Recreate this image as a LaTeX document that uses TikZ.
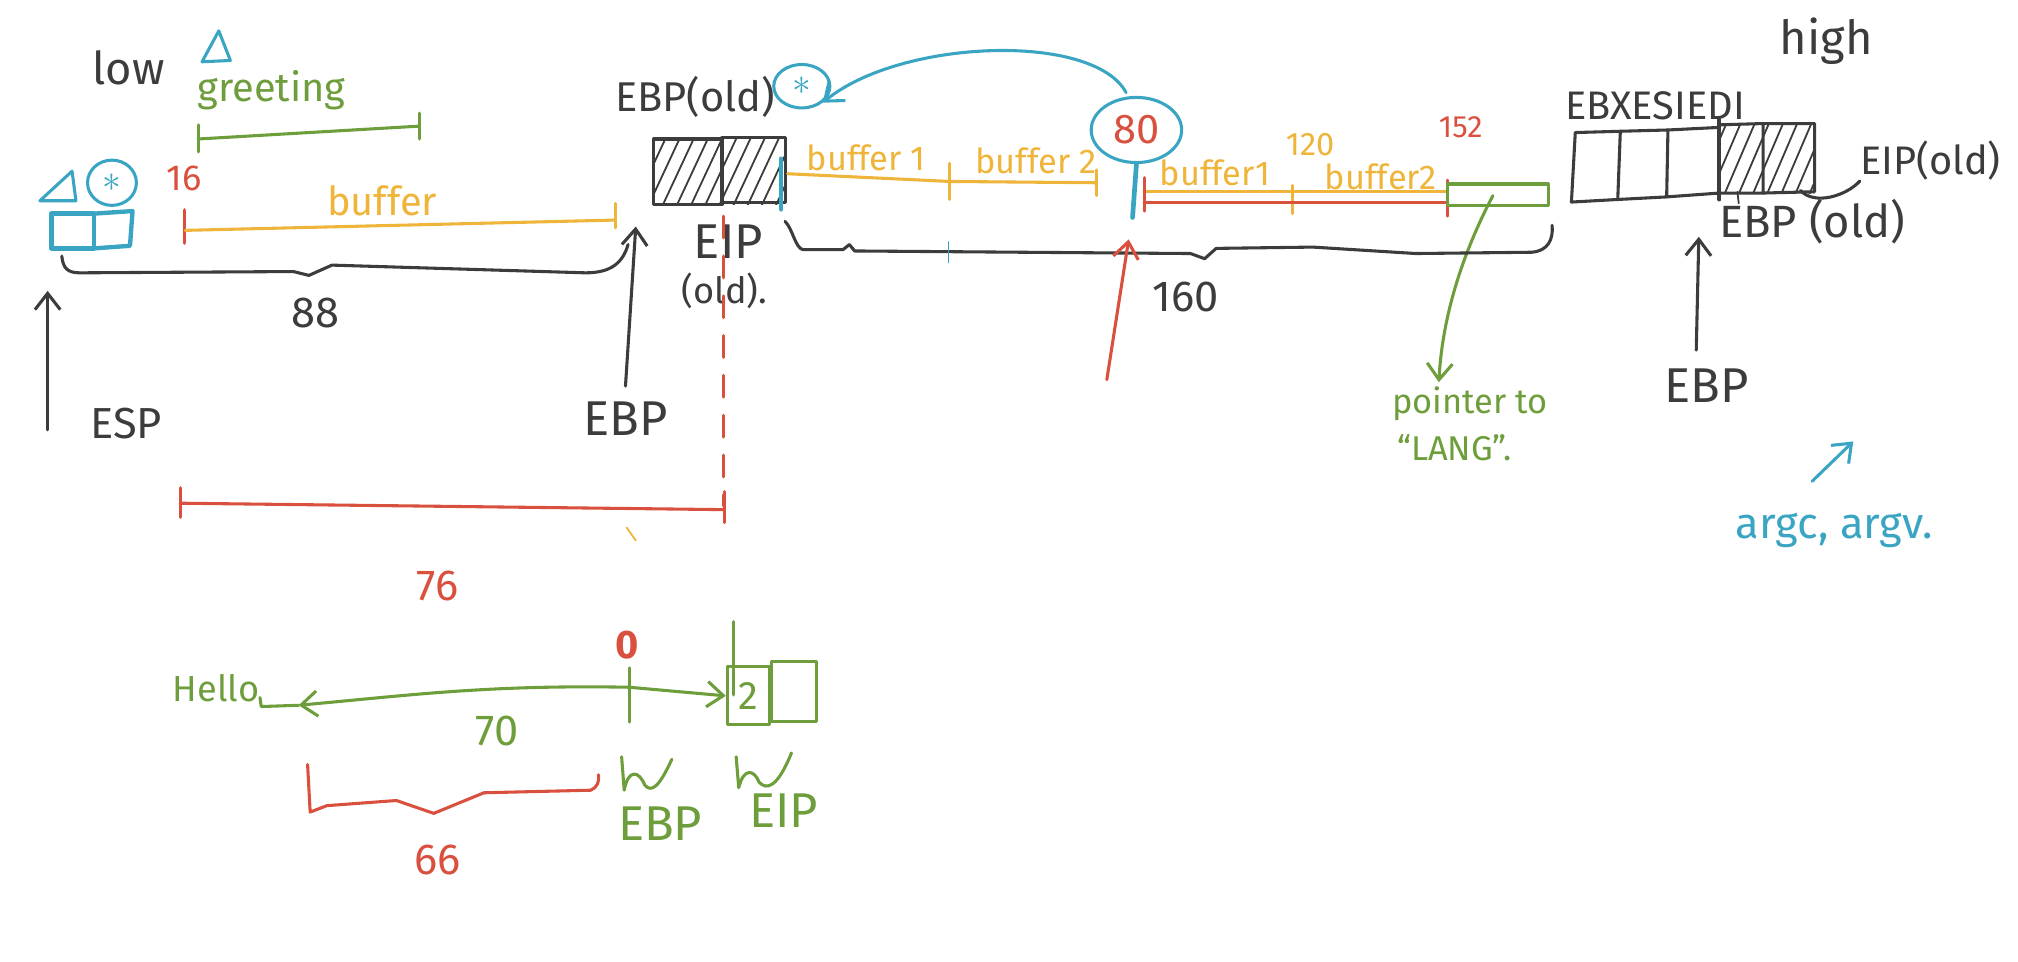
\documentclass[tikz,border=0pt]{standalone}
\usepackage{fontspec}
\setmainfont{Fira Sans}
\usetikzlibrary{arrows.meta,calc,shapes.geometric}
\definecolor{ink}{HTML}{3C3C3C}
\definecolor{grn}{HTML}{6E9E3C}
\definecolor{ylw}{HTML}{EFB43A}
\definecolor{rd}{HTML}{D9503F}
\definecolor{blu}{HTML}{3AA5C2}
\begin{document}
\begin{tikzpicture}[x=0.025cm,y=-0.025cm,line cap=round,line join=round,
  pen/.style={line width=1.7pt},
  thin pen/.style={line width=1pt},
  big/.style={font=\fontsize{24}{26}\selectfont,inner sep=0pt},
  bigger/.style={font=\fontsize{27}{29}\selectfont,inner sep=0pt},
  mid/.style={font=\fontsize{20}{22}\selectfont,inner sep=0pt},
  sml/.style={font=\fontsize{19}{21}\selectfont,inner sep=0pt},
  barb/.style={-{Straight Barb[length=9pt,width=14pt,line width=1.7pt]}},
  barbb/.style={{Straight Barb[length=9pt,width=14pt,line width=1.7pt]}-},
  astcirc/.style={pen,draw=blu,ellipse,inner sep=0pt,text=blu,font=\fontsize{20}{20}\selectfont},
  hatchbox/.style={pen,draw=ink}]
\useasboundingbox (0,0) rectangle (1568,747);

% ---------------- left part ----------------
\node[font=\fontsize{25}{27}\selectfont,inner sep=0pt,text=ink] (low) at (100,53) {low};
\draw[pen,blu] (157,48) -- (170,24) -- (179,47) -- cycle;
\node[font=\fontsize{22}{24}\selectfont,inner sep=0pt,text=grn] (greeting) at (211,70) {greeting};
\coordinate (gL) at (154,108); \coordinate (gR) at (326,98);
\draw[pen,grn] (gL) -- (gR);
\draw[pen,grn] (154,97) -- (154,118);
\draw[pen,grn] (326,88) -- (326,108);

\draw[pen,blu] (31,156) -- (56,133) -- (59,156) -- cycle;
\node[astcirc,minimum width=27pt,minimum height=25pt] (astA) at (87,142) {$\ast$};
\draw[line width=2.4pt,blu] (40,166) rectangle (73,193);
\draw[line width=2.4pt,blu] (73,166) -- (103,164) -- (101,191) -- (73,193);

\node[font=\fontsize{20}{22}\selectfont,inner sep=0pt,text=rd] (n16) at (143,139) {16};
\coordinate (bL) at (144,179); \coordinate (bR) at (478,171);
\draw[pen,rd] (143,163) -- (143,189);
\draw[pen,ylw] (bL) -- (bR);
\draw[pen,ylw] (478,158) -- (478,177);
\node[font=\fontsize{22}{24}\selectfont,inner sep=0pt,text=ylw] (buf) at (297,156) {buffer};

% brace 88
\coordinate (brL) at (48,199); \coordinate (brR) at (488,190);
\draw[pen,ink] (brL) .. controls (49,208) and (52,212) .. (62,212)
  -- (228,211) -- (240,214) -- (258,206) -- (455,212)
  .. controls (475,212) and (484,204) .. (brR);
\node[big,text=ink] (n88) at (245,243) {88};

\node[big,text=ink] (esp) at (98,329) {ESP};
\coordinate (espA) at (37,334); \coordinate (espB) at (37,226);
\draw[pen,ink,barb] (espA) -- (espB);
\node[bigger,text=ink] (ebp1) at (486,325) {EBP};
\coordinate (ebpA) at (486,300); \coordinate (ebpB) at (494,176);
\draw[pen,ink,barb] (ebpA) -- (ebpB);

% ---------------- old EBP / EIP boxes ----------------
\node[font=\fontsize{23}{25}\selectfont,inner sep=0pt,text=ink] (ebpold) at (540,75) {EBP(old)};
\begin{scope}
  \clip (508,107) rectangle (610,159);
  \foreach \i in {0,11,...,150} \draw[thin pen,ink] (466+\i,170) -- (501+\i,95);
\end{scope}
\draw[hatchbox] (508,108) rectangle (561,159);
\draw[hatchbox] (561,107) rectangle (610,157);
\node[astcirc,minimum width=31pt,minimum height=24pt] (astB) at (623,67) {$\ast$};
\node[bigger,text=ink] (eip) at (566,188) {EIP};
\node[mid,text=ink] (eipold) at (563,226) {(old).};

% red dashed and 76
\coordinate (dT) at (562,168); \coordinate (dB) at (562,393);
\draw[pen,rd,dash pattern=on 12pt off 10pt] (dT) -- (dB);
\coordinate (sL) at (140,391); \coordinate (sR) at (563,396);
\draw[pen,rd] (sL) -- (sR);
\draw[pen,rd] (140,379) -- (140,402);
\draw[pen,rd] (563,382) -- (563,406);
\node[big,text=rd] (n76) at (340,455) {76};
\draw[thin pen,ylw] (487,410) -- (494,420);

% buffer1 / buffer2 before 80
\coordinate (y1L) at (612,135); \coordinate (y1R) at (852,142);
\draw[pen,ylw] (y1L) -- (738,141) -- (y1R);
\draw[pen,ylw] (738,127) -- (738,155);
\draw[pen,ylw] (852,132) -- (852,152);
\draw[line width=2pt,blu] (607,123) -- (607,163);
\node[sml,text=ylw] (b1a) at (673,123) {buffer 1};
\node[sml,text=ylw] (b2a) at (805,125) {buffer 2};

% circle 80
\node[pen,draw=blu,ellipse,minimum width=50pt,minimum height=36pt,inner sep=0pt,text=rd,font=\fontsize{23}{23}\selectfont] (c80) at (883,101) {80};
\coordinate (stem) at (880,169);
\draw[line width=2.6pt,blu] (c80.south) -- (stem);
\draw[pen,blu,barb] (875,72) .. controls (850,25) and (700,30) .. (astB.south east);

% after 80
\coordinate (y2L) at (889,149); \coordinate (y2R) at (1125,149);
\draw[pen,ylw] (y2L) -- (y2R);
\draw[pen,ylw] (1004,144) -- (1004,166);
\coordinate (r2L) at (889,157); \coordinate (r2R) at (1125,157);
\draw[pen,rd] (r2L) -- (r2R);
\draw[pen,rd] (889,138) -- (889,164);
\draw[pen,rd] (1125,140) -- (1125,168);
\node[sml,text=ylw] (b1b) at (944,134) {buffer1};
\node[sml,text=ylw] (b2b) at (1073,137) {buffer2};
\node[font=\fontsize{18}{20}\selectfont,inner sep=0pt,text=ylw] (n120) at (1018,112) {120};
\node[font=\fontsize{17}{19}\selectfont,inner sep=0pt,text=rd] (n152) at (1135,99) {152};
\draw[pen,grn] (1125,143) rectangle (1203,160);
\coordinate (gpA) at (1160,152);
\node[sml,text=grn] (ptr) at (1142,314) {pointer to};
\node[sml,text=grn] (lang) at (1130,348) {``LANG''.};
\draw[pen,grn,barb] (gpA) .. controls (1140,190) and (1121,240) .. (1118,297);

% bracket 160
\coordinate (kL) at (610,172); \coordinate (kR) at (1206,175);
\draw[pen,ink] (kL) .. controls (616,178) and (618,193) .. (624,194)
  -- (655,194) -- (660,190) -- (664,195) -- (925,197) -- (936,201) -- (945,193)
  -- (1020,192) -- (1100,197) -- (1190,196)
  .. controls (1203,195) and (1207,186) .. (kR);
\draw[thin pen,blu] (737,188) -- (737,204);
\node[big,text=ink] (n160) at (921,231) {160};
\coordinate (raA) at (860,295); \coordinate (raB) at (877,186);
\draw[pen,rd,barb] (raA) -- (raB);

% ---------------- right part ----------------
\node[font=\fontsize{26}{28}\selectfont,inner sep=0pt,text=ink] (high) at (1419,32) {high};
\node[font=\fontsize{22}{24}\selectfont,inner sep=0pt,text=ink] (regs) at (1286,82) {EBXESIEDI};
\draw[pen,ink] (1224,103) -- (1259,102) -- (1257,155) -- (1221,157) -- cycle;
\draw[pen,ink] (1259,102) -- (1296,101) -- (1295,153) -- (1257,155);
\draw[pen,ink] (1296,101) -- (1336,99) -- (1336,150) -- (1295,153);
\begin{scope}
  \clip (1336,96) rectangle (1410,150);
  \foreach \i in {0,11,...,120} \draw[thin pen,ink] (1314+\i,160) -- (1344+\i,90);
\end{scope}
\draw[hatchbox] (1336,97) -- (1370,96) -- (1370,150) -- (1336,150);
\draw[hatchbox] (1370,96) -- (1410,96) -- (1410,149) -- (1370,150);
\draw[line width=2.2pt,ink] (1336,93) -- (1336,155);
\node[font=\fontsize{22}{24}\selectfont,inner sep=0pt,text=ink] (eipR) at (1500,125) {EIP(old)};
\draw[pen,ink] (1399,148) .. controls (1410,160) and (1435,152) .. (eipR.south west);
\node[font=\fontsize{25}{27}\selectfont,inner sep=0pt,text=ink] (ebpR) at (1408,172) {EBP (old)};
\draw[thin pen,ink] (1350,149) -- (1351,158);
\node[bigger,text=ink] (ebpR2) at (1326,300) {EBP};
\coordinate (ebRA) at (1318,272); \coordinate (ebRB) at (1320,184);
\draw[pen,ink,barb] (ebRA) -- (ebRB);
\node[font=\fontsize{24}{26}\selectfont,inner sep=0pt,text=blu] (argv) at (1425,412) {argc, argv.};
\coordinate (baA) at (1408,374); \coordinate (baB) at (1440,343);
\draw[pen,blu,barb] (baA) -- (baB);

% ---------------- bottom ----------------
\node[mid,text=grn] (hello) at (168,535) {Hello};
\draw[pen,grn] (202,542) -- (203,549) -- (232,548);
\coordinate (hA) at (232,548); \coordinate (z0) at (489,534);
\draw[pen,grn,barbb] (hA) .. controls (320,540) and (380,532) .. (z0);
\draw[pen,grn] (489,519) -- (489,561);
\node[text=rd,inner sep=0pt,font=\bfseries\fontsize{22}{22}\selectfont] (n0) at (487,501) {0};
\draw[pen,grn] (570,483) -- (570,540);
\node[pen,draw=grn,minimum width=23.5pt,minimum height=32pt,inner sep=0pt,text=grn,font=\fontsize{22}{22}\selectfont,anchor=north west] (bx2) at (564,517) {2};
\node[pen,draw=grn,minimum width=25pt,minimum height=33pt,inner sep=0pt,anchor=north west] (bx3) at (598,513) {};
\draw[pen,grn,barb] (z0) -- (bx2.west);
\node[font=\fontsize{24}{26}\selectfont,inner sep=0pt,text=grn] (n70) at (386,568) {70};
\draw[pen,rd] (239,594) -- (241,631) -- (254,626) -- (308,622) -- (337,632) -- (376,616) -- (459,614) .. controls (464,612) and (466,607) .. (465,602);
\node[big,text=rd] (n66) at (340,668) {66};
\draw[pen,grn] (483,588) -- (485,614) .. controls (488,598) and (496,598) .. (501,610) .. controls (506,616) and (512,612) .. (522,590);
\draw[pen,grn] (572,588) -- (574,612) .. controls (578,596) and (586,598) .. (590,608) .. controls (596,614) and (604,612) .. (615,585);
\node[font=\fontsize{27}{29}\selectfont,inner sep=0pt,text=grn] (ebpG) at (513,640) {EBP};
\node[font=\fontsize{27}{29}\selectfont,inner sep=0pt,text=grn] (eipG) at (609,630) {EIP};
\end{tikzpicture}
\end{document}
